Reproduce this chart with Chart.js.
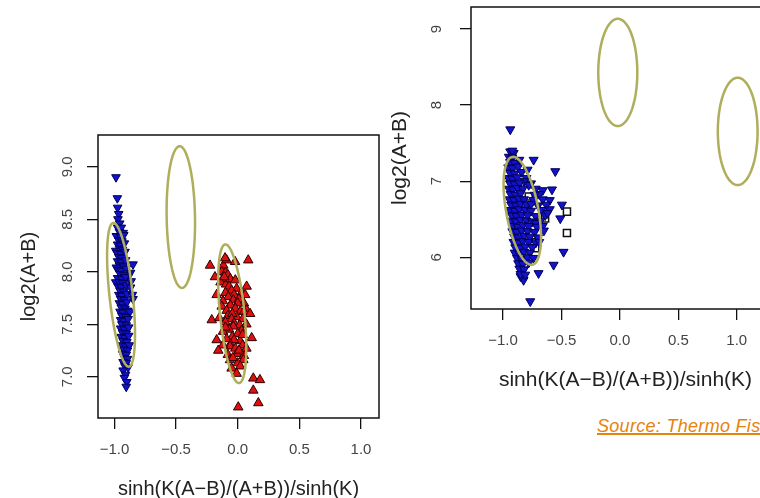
<!DOCTYPE html>
<html>
<head>
<meta charset="utf-8">
<script src="https://cdn.jsdelivr.net/npm/chart.js@4.4.1/dist/chart.umd.min.js"></script>
<style>
  html, body { margin: 0; padding: 0; background: #fff; overflow: hidden; }
  #page { position: relative; width: 760px; height: 498px; overflow: hidden; background: #fff; }
  #page canvas { position: absolute; }
  #leftPlot { left: 0; top: 120px; }
  #rightPlot { left: 380px; top: 0; }
  #source {
    position: absolute; left: 597px; top: 416px;
    font: italic 18px "Liberation Sans", Arial, sans-serif; line-height: 20px; letter-spacing: 0.3px;
    color: #e8820e; text-decoration: underline; text-decoration-thickness: 2px;
    white-space: nowrap;
  }
</style>
</head>
<body>
<div id="page">
  <canvas id="leftPlot" width="380" height="390"></canvas>
  <canvas id="rightPlot" width="400" height="400"></canvas>
  <span id="source">Source: Thermo Fis</span>
</div>
<script>
// ---- axis ticks ----
var xTicks = [-1, -0.5, 0, 0.5, 1];
var xTickLabels = ['\u22121.0', '\u22120.5', '0.0', '0.5', '1.0'];
var leftYTicks = [7.0, 7.5, 8.0, 8.5, 9.0];
var leftYTickLabels = ['7.0', '7.5', '8.0', '8.5', '9.0'];
var rightYTicks = [6, 7, 8, 9];
var rightYTickLabels = ['6', '7', '8', '9'];

var xTitle = 'sinh(K(A\u2212B)/(A+B))/sinh(K)';
var yTitle = 'log2(A+B)';

// ---- left panel: [x, y] ----
var leftBlue = [
  [-0.988,8.90],[-0.977,8.70],[-0.975,8.61],[-0.966,8.55],[-0.972,8.50],[-0.958,8.46],
  [-0.975,8.42],[-0.945,8.42],[-0.960,8.38],[-0.930,8.37],
  [-0.985,8.34],[-0.950,8.33],[-0.925,8.35],[-0.965,8.30],[-0.940,8.29],
  [-0.975,8.26],[-0.950,8.25],[-0.920,8.27],[-0.960,8.22],[-0.935,8.21],[-0.990,8.20],
  [-0.980,8.18],[-0.950,8.17],[-0.915,8.19],[-0.965,8.14],[-0.940,8.13],
  [-0.975,8.10],[-0.945,8.09],[-0.910,8.11],[-0.960,8.06],[-0.930,8.05],[-0.850,8.07],
  [-0.985,8.04],[-0.970,8.02],[-0.945,8.01],[-0.905,8.03],[-0.955,7.98],[-0.925,7.97],[-0.870,7.99],
  [-0.890,7.95],[-0.975,7.94],[-0.940,7.93],[-0.910,7.95],[-0.990,7.90],[-0.960,7.90],[-0.930,7.89],[-0.865,7.91],
  [-0.970,7.86],[-0.945,7.85],[-0.905,7.87],[-0.870,7.85],[-0.955,7.82],[-0.925,7.81],
  [-0.965,7.78],[-0.940,7.77],[-0.900,7.79],[-0.855,7.78],
  [-0.950,7.74],[-0.920,7.73],[-0.850,7.74],[-0.960,7.70],[-0.935,7.69],[-0.900,7.71],
  [-0.945,7.66],[-0.915,7.65],[-0.955,7.62],[-0.930,7.61],[-0.895,7.63],[-0.875,7.62],
  [-0.940,7.58],[-0.910,7.57],[-0.950,7.54],[-0.925,7.53],[-0.890,7.55],
  [-0.940,7.50],[-0.905,7.49],[-0.950,7.46],[-0.920,7.45],[-0.885,7.47],
  [-0.935,7.42],[-0.905,7.41],[-0.945,7.38],[-0.915,7.37],[-0.885,7.39],
  [-0.930,7.34],[-0.900,7.33],[-0.940,7.30],[-0.910,7.29],[-0.880,7.30],
  [-0.925,7.26],[-0.895,7.25],[-0.935,7.22],[-0.905,7.21],
  [-0.920,7.18],[-0.895,7.17],[-0.930,7.14],[-0.905,7.13],
  [-0.915,7.10],[-0.890,7.09],
  [-0.930,7.06],[-0.910,7.02],[-0.920,6.99],[-0.900,6.95],[-0.905,6.905]
];
var leftRed = [
  [-0.225,8.06],[-0.117,8.06],[-0.090,8.11],[-0.103,8.13],[-0.022,8.095],[0.085,8.11],
  [-0.130,8.00],[-0.100,7.99],[-0.185,7.95],[-0.117,7.92],[-0.080,7.97],[-0.140,7.90],
  [-0.095,7.88],[-0.060,7.93],[-0.020,7.92],[-0.110,7.95],[-0.070,7.86],
  [0.072,7.86],[-0.009,7.84],[-0.050,7.82],[0.030,7.80],[0.060,7.78],[-0.100,7.80],[-0.030,7.78],
  [-0.171,7.78],[-0.077,7.76],[-0.036,7.73],[0.010,7.74],[-0.120,7.72],[0.050,7.70],[0.000,7.70],
  [-0.130,7.67],[-0.060,7.68],[-0.020,7.65],[0.072,7.635],[0.020,7.62],[-0.090,7.63],[0.050,7.62],
  [0.100,7.60],[-0.009,7.57],[-0.080,7.58],[-0.045,7.60],[0.040,7.55],[-0.050,7.55],
  [-0.211,7.54],[-0.150,7.56],[-0.100,7.52],[-0.030,7.51],[0.015,7.49],[0.070,7.50],
  [-0.036,7.48],[-0.070,7.45],[0.032,7.44],[-0.120,7.43],[0.000,7.41],[-0.100,7.47],
  [0.113,7.37],[-0.045,7.38],[-0.090,7.36],[0.020,7.34],[0.040,7.40],[-0.030,7.35],
  [-0.171,7.35],[-0.060,7.31],[-0.063,7.29],[0.040,7.30],[-0.020,7.27],[-0.120,7.30],
  [-0.158,7.25],[-0.009,7.22],[0.050,7.20],[-0.080,7.21],[0.010,7.25],[0.070,7.27],
  [0.045,7.16],[-0.063,7.16],[0.000,7.13],[-0.040,7.18],[0.020,7.10],[-0.050,7.08],
  [-0.009,7.03],[0.126,6.985],[0.180,6.97],[0.126,6.87],[0.167,6.75],[0.004,6.71]
];
// [cx, cy, rx, ry, shear]
var leftEllipses = [
  [-0.947, 7.78, 0.095, 0.685, -0.09],
  [-0.462, 8.52, 0.115, 0.675, -0.014],
  [-0.045, 7.60, 0.100, 0.660, -0.083]
];

// ---- right panel ----
var rightBlue = [
  [-0.938,7.68],[-0.938,7.39],[-0.909,7.37],[-0.920,7.40],[-0.738,7.28],[-0.553,7.13],
  [-0.581,6.89],[-0.496,6.69],[-0.510,6.51],[-0.482,6.07],[-0.567,5.90],[-0.696,5.79],
  [-0.767,5.42],[-0.824,5.70],[-0.850,5.75],
  [-0.950,7.32],[-0.920,7.31],[-0.940,7.25],[-0.900,7.24],[-0.860,7.28],
  [-0.955,7.18],[-0.915,7.17],[-0.870,7.19],[-0.790,7.15],[-0.940,7.11],[-0.900,7.10],[-0.840,7.12],
  [-0.955,7.04],[-0.920,7.03],[-0.880,7.05],[-0.800,7.04],[-0.820,7.00],
  [-0.940,6.97],[-0.900,6.96],[-0.860,6.98],[-0.760,6.97],[-0.780,6.95],
  [-0.950,6.90],[-0.915,6.89],[-0.875,6.91],[-0.830,6.90],[-0.720,6.90],[-0.660,6.88],
  [-0.935,6.83],[-0.895,6.82],[-0.850,6.84],[-0.690,6.83],[-0.730,6.82],
  [-0.945,6.76],[-0.905,6.75],[-0.865,6.77],[-0.820,6.76],[-0.740,6.75],[-0.660,6.76],[-0.600,6.75],
  [-0.930,6.69],[-0.890,6.68],[-0.850,6.70],[-0.800,6.69],[-0.700,6.68],[-0.630,6.69],[-0.760,6.70],
  [-0.940,6.62],[-0.900,6.61],[-0.860,6.63],[-0.810,6.62],[-0.760,6.61],[-0.670,6.62],[-0.600,6.63],
  [-0.925,6.55],[-0.885,6.54],[-0.840,6.56],[-0.790,6.55],[-0.720,6.54],[-0.640,6.55],[-0.620,6.58],
  [-0.930,6.48],[-0.890,6.47],[-0.850,6.49],[-0.800,6.48],[-0.750,6.47],[-0.680,6.48],[-0.720,6.45],
  [-0.915,6.41],[-0.875,6.40],[-0.830,6.42],[-0.780,6.41],[-0.710,6.40],[-0.660,6.41],
  [-0.920,6.34],[-0.880,6.33],[-0.840,6.35],[-0.790,6.34],[-0.730,6.33],[-0.650,6.35],
  [-0.905,6.27],[-0.865,6.26],[-0.820,6.28],[-0.770,6.27],[-0.700,6.26],
  [-0.910,6.20],[-0.870,6.19],[-0.830,6.21],[-0.780,6.20],[-0.720,6.19],[-0.690,6.20],
  [-0.895,6.13],[-0.855,6.12],[-0.810,6.14],[-0.750,6.13],
  [-0.900,6.06],[-0.860,6.05],[-0.820,6.07],[-0.770,6.06],
  [-0.880,5.99],[-0.840,5.98],[-0.790,6.00],[-0.740,5.99],
  [-0.870,5.92],[-0.830,5.91],[-0.780,5.93],
  [-0.860,5.85],[-0.820,5.84],[-0.850,5.78],[-0.810,5.77]
];
var rightSquares = [
  [-0.453,6.60],[-0.453,6.32],[-0.752,6.29],[-0.724,6.12],[-0.640,6.51],[-0.780,6.80]
];
var rightEllipses = [
  [-0.835, 6.61, 0.140, 0.710, -0.11],
  [-0.018, 8.43, 0.167, 0.705, 0],
  [1.008, 7.655, 0.170, 0.705, 0]
];

// ---- plugins ----
var boxPlugin = {
  id: 'plotBox',
  afterDraw: function(chart) {
    var a = chart.chartArea, ctx = chart.ctx;
    ctx.save();
    ctx.strokeStyle = '#111';
    ctx.lineWidth = 1.5;
    ctx.strokeRect(a.left, a.top, a.right - a.left, a.bottom - a.top);
    ctx.restore();
  }
};

var ellipsePlugin = {
  id: 'ellipses',
  afterDatasetsDraw: function(chart, args, opts) {
    var ctx = chart.ctx, a = chart.chartArea;
    var xs = chart.scales.x, ys = chart.scales.y;
    ctx.save();
    ctx.beginPath();
    ctx.rect(a.left, a.top, a.right - a.left, a.bottom - a.top);
    ctx.clip();
    ctx.strokeStyle = opts.color;
    ctx.lineWidth = opts.width;
    opts.items.forEach(function(e) {
      ctx.beginPath();
      for (var i = 0; i <= 120; i++) {
        var t = i / 120 * Math.PI * 2;
        var dx = e[2] * Math.cos(t) + e[4] * e[3] * Math.sin(t);
        var dy = e[3] * Math.sin(t);
        var px = xs.getPixelForValue(e[0] + dx);
        var py = ys.getPixelForValue(e[1] + dy);
        if (i == 0) ctx.moveTo(px, py); else ctx.lineTo(px, py);
      }
      ctx.closePath();
      ctx.stroke();
    });
    ctx.restore();
  }
};

// y tick text is drawn standing on its side, like base R graphics
var yTickTextPlugin = {
  id: 'yTickText',
  afterDraw: function(chart, args, opts) {
    var ctx = chart.ctx, ys = chart.scales.y;
    ctx.save();
    ctx.font = opts.font;
    ctx.fillStyle = opts.color;
    ctx.textAlign = 'center';
    ctx.textBaseline = 'middle';
    ys.ticks.forEach(function(t, i) {
      ctx.save();
      ctx.translate(opts.x, ys.getPixelForValue(t.value));
      ctx.rotate(-Math.PI / 2);
      ctx.fillText(opts.labels[i], 0, 0);
      ctx.restore();
    });
    ctx.restore();
  }
};

function pts(list) {
  return list.map(function(p) { return {x: p[0], y: p[1]}; });
}

function makePanel(id, o) {
  return new Chart(document.getElementById(id), {
    type: 'scatter',
    data: { datasets: o.datasets },
    options: {
      responsive: false,
      animation: false,
      devicePixelRatio: 1,
      // no extra room for markers at the edges, the box is placed exactly
      layout: { padding: o.padding, autoPadding: false },
      plugins: {
        legend: { display: false },
        tooltip: { enabled: false },
        ellipses: { items: o.ellipses, color: '#aeae5c', width: 2.5 },
        yTickText: { x: o.yTickX, labels: o.yLabels, font: '15px "Liberation Sans", Arial, sans-serif', color: '#444' }
      },
      scales: {
        x: {
          type: 'linear', min: o.xMin, max: o.xMax,
          afterFit: function(s) { s.height = o.xAxisHeight; },
          afterBuildTicks: function(s) { s.ticks = xTicks.map(function(v) { return {value: v}; }); },
          // padding 0 so the end labels ask for no side room; the tall line box moves them down
          ticks: {
            autoSkip: false, maxRotation: 0, padding: 0, color: '#444',
            font: { family: '"Liberation Sans", Arial, sans-serif', size: 15, lineHeight: '42px' },
            callback: function(v) { return xTickLabels[xTicks.indexOf(v)]; }
          },
          grid: { drawOnChartArea: false, drawTicks: true, tickLength: 11, color: '#111', lineWidth: 1.3 },
          border: { display: false },
          title: {
            display: true, text: xTitle, color: '#222',
            font: { family: '"Liberation Sans", Arial, sans-serif', size: o.titleSize },
            padding: { top: 0, bottom: o.xTitlePad }
          }
        },
        y: {
          type: 'linear', min: o.yMin, max: o.yMax,
          afterFit: function(s) { s.width = o.yAxisWidth; },
          afterBuildTicks: function(s) { s.ticks = o.yTicks.map(function(v) { return {value: v}; }); },
          ticks: { display: false },
          grid: { drawOnChartArea: false, drawTicks: true, tickLength: 11, color: '#111', lineWidth: 1.3 },
          border: { display: false },
          title: {
            display: true, text: yTitle, color: '#222',
            font: { family: '"Liberation Sans", Arial, sans-serif', size: o.titleSize },
            padding: { top: o.yTitlePad, bottom: 0 }
          }
        }
      }
    },
    plugins: [boxPlugin, ellipsePlugin, yTickTextPlugin]
  });
}

var downBlue = {
  pointStyle: 'triangle', rotation: 180,
  backgroundColor: '#1212cc', borderColor: '#000058', borderWidth: 1
};

makePanel('leftPlot', {
  datasets: [
    { data: pts(leftRed), pointStyle: 'triangle', pointRadius: 5.5,
      backgroundColor: '#dc1010', borderColor: '#2a0000', borderWidth: 1 },
    Object.assign({ data: pts(leftBlue), pointRadius: 5 }, downBlue)
  ],
  ellipses: leftEllipses,
  padding: { top: 15, right: 1, left: 0, bottom: 0 },
  xMin: -1.134, xMax: 1.146, yMin: 6.607, yMax: 9.302,
  xAxisHeight: 92, yAxisWidth: 98,
  yTicks: leftYTicks, yLabels: leftYTickLabels, yTickX: 68,
  titleSize: 20, xTitlePad: 9, yTitlePad: 17.5
});

makePanel('rightPlot', {
  datasets: [
    Object.assign({ data: pts(rightBlue), pointRadius: 5.2 }, downBlue),
    { data: pts(rightSquares), pointStyle: 'rect', pointRadius: 5,
      backgroundColor: '#fff', borderColor: '#111', borderWidth: 1.5 }
  ],
  ellipses: rightEllipses,
  padding: { top: 7, right: 0, left: 0, bottom: 0 },
  xMin: -1.274, xMax: 1.37, yMin: 5.32, yMax: 9.29,
  xAxisHeight: 91, yAxisWidth: 91,
  yTicks: rightYTicks, yLabels: rightYTickLabels, yTickX: 57,
  titleSize: 21, xTitlePad: 7.4, yTitlePad: 7.4
});
</script>
</body>
</html>
